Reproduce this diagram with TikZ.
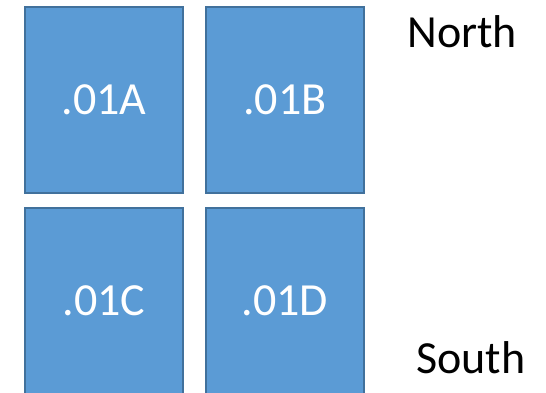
\documentclass[tikz,border=0pt]{standalone}
\usepackage{fontspec}
\setmainfont{Carlito}
\definecolor{cellfill}{HTML}{5B9BD5}
\definecolor{celledge}{HTML}{41719C}

\begin{document}
\begin{tikzpicture}[x=0.5pt,y=-0.5pt,every node/.style={font=\fontsize{23}{27}\selectfont},
  cell/.style={draw=celledge,fill=cellfill,line width=1pt,text=white,minimum width=79pt,minimum height=93pt,inner sep=0pt,outer sep=0pt}]
\useasboundingbox (0,0) rectangle (546,392);
\clip (0,0) rectangle (546,392);
\node[cell] (A) at (104,100) {.01A};
\node[cell] (B) at (285,100) {.01B};
\node[cell] (C) at (104,301) {.01C};
\node[cell] (D) at (285,301) {.01D};
\node[anchor=base west,inner sep=0pt] (north) at (407,47) {North};
\node[anchor=base west,inner sep=0pt] (south) at (416,373) {South};
\end{tikzpicture}
\end{document}
